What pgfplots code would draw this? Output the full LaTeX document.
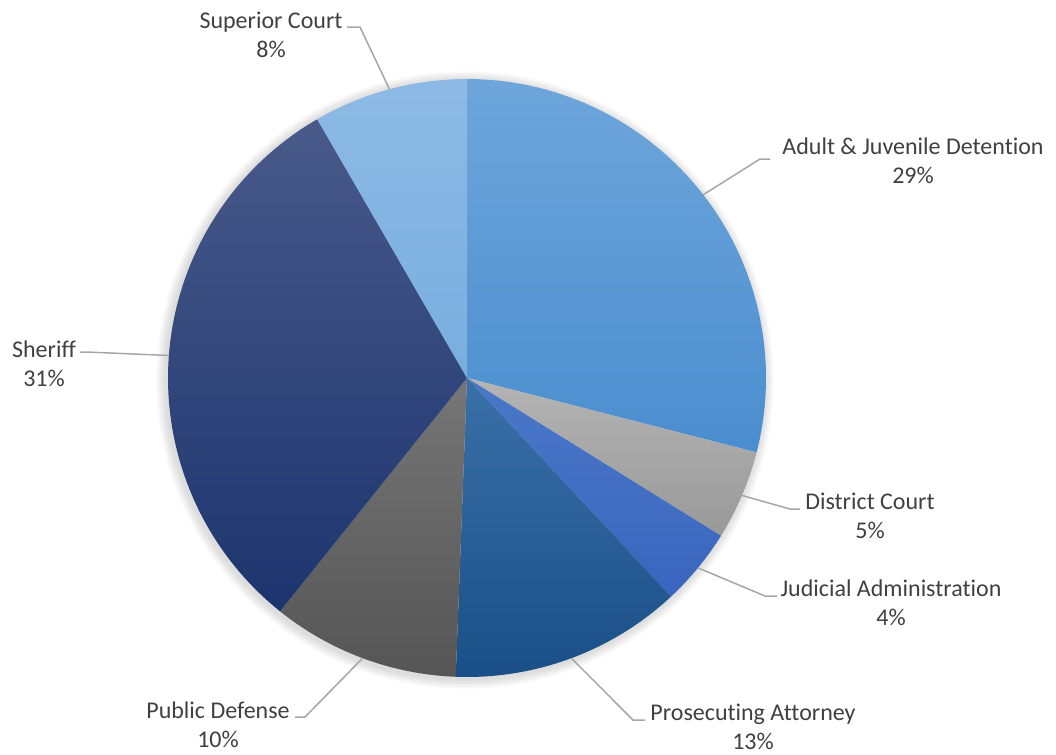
\documentclass[border=0pt]{standalone}
\usepackage{pgfplots}
\pgfplotsset{compat=1.18}
\usepackage{pgfplotstable}
\usepackage{fontspec}
\setmainfont{Carlito}[Ligatures=NoCommon]

% slice colours (top / middle / bottom of each gradient)
\definecolor{t0}{HTML}{6EA6DB} \definecolor{m0}{HTML}{5C9AD6} \definecolor{b0}{HTML}{4A8DCF}
\definecolor{t1}{HTML}{B4B4B4} \definecolor{m1}{HTML}{A6A6A6} \definecolor{b1}{HTML}{999999}
\definecolor{t2}{HTML}{4A78C8} \definecolor{m2}{HTML}{426EC3} \definecolor{b2}{HTML}{3A65BE}
\definecolor{t3}{HTML}{3A70A8} \definecolor{m3}{HTML}{245C95} \definecolor{b3}{HTML}{1A4E86}
\definecolor{t4}{HTML}{767676} \definecolor{m4}{HTML}{626262} \definecolor{b4}{HTML}{555555}
\definecolor{t5}{HTML}{495A8A} \definecolor{m5}{HTML}{26427F} \definecolor{b5}{HTML}{1C346E}
\definecolor{t6}{HTML}{8DBAE5} \definecolor{m6}{HTML}{82B4E2} \definecolor{b6}{HTML}{78AEDF}
\definecolor{txt}{HTML}{404040}
\definecolor{leader}{HTML}{A6A6A6}

% share in %, label centre (lx,ly), leader elbow (ex,ey), leader end (hx,hy) -- pixel units
\pgfplotstableread[col sep=comma]{
name,share,lx,ly,ex,ey,hx,hy
Adult \& Juvenile Detention,29.0,913,161,760,159,770,159
District Court,4.85,870,516,790,509,800,509
Judicial Administration,4.2,891,603,765,596,777,596
Prosecuting Attorney,12.55,753,727,633,720,645,720
Public Defense,10.15,218,725,305,717,295,717
Sheriff,30.9,44,364,86,352,80,352
Superior Court,8.35,271,35,360,27,347,27
}\budget

\tikzset{lbl/.style={align=center, text=txt, inner sep=0pt,
  font=\fontsize{12}{14.5}\selectfont}}

\begin{document}
\begin{tikzpicture}
\begin{axis}[
    hide axis,
    scale only axis,
    width=528pt, height=377.5pt,
    xmin=0, xmax=1056, ymin=0, ymax=755,
    y dir=reverse,
    clip=false,
]
\def\R{149.5pt}
\def\cum{0}
% fix the picture's extent to the full frame
\path (axis cs:0,0) rectangle (axis cs:1056,755);
% soft shadow
\pgfplotsinvokeforeach{1,...,6}{
  \fill[black, opacity=0.025] (axis cs:465,380) circle[radius=149.5pt+#1*0.8pt];
}
\pgfplotsforeachungrouped \i in {0,...,6}{
  \pgfplotstablegetelem{\i}{share}\of\budget \let\s\pgfplotsretval
  \pgfplotstablegetelem{\i}{name}\of\budget \let\nm\pgfplotsretval
  \pgfplotstablegetelem{\i}{lx}\of\budget \let\lx\pgfplotsretval
  \pgfplotstablegetelem{\i}{ly}\of\budget \let\ly\pgfplotsretval
  \pgfplotstablegetelem{\i}{ex}\of\budget \let\ex\pgfplotsretval
  \pgfplotstablegetelem{\i}{ey}\of\budget \let\ey\pgfplotsretval
  \pgfplotstablegetelem{\i}{hx}\of\budget \let\hx\pgfplotsretval
  \pgfplotstablegetelem{\i}{hy}\of\budget \let\hy\pgfplotsretval
  \pgfmathsetmacro\aS{90-3.6*\cum}
  \pgfmathsetmacro\aE{90-3.6*(\cum+\s)}
  \pgfmathsetmacro\aM{(\aS+\aE)/2}
  \pgfmathsetmacro\cum{\cum+\s}
  \pgfmathtruncatemacro\pc{round(\s)}
  \edef\temp{%
    \noexpand\shade[top color=t\i, middle color=m\i, bottom color=b\i]
      (axis cs:467,378) -- ++(\aS:\R) arc[start angle=\aS, end angle=\aE, radius=\R] -- cycle;
    \noexpand\draw[leader, line width=0.75pt]
      (axis cs:467,378) ++(\aM:\R) -- (axis cs:\ex,\ey) -- (axis cs:\hx,\hy);
    \noexpand\node[lbl] at (axis cs:\lx,\ly) {\nm\noexpand\\\pc\noexpand\%};
  }
  \temp
}
\end{axis}
\end{tikzpicture}
\end{document}
